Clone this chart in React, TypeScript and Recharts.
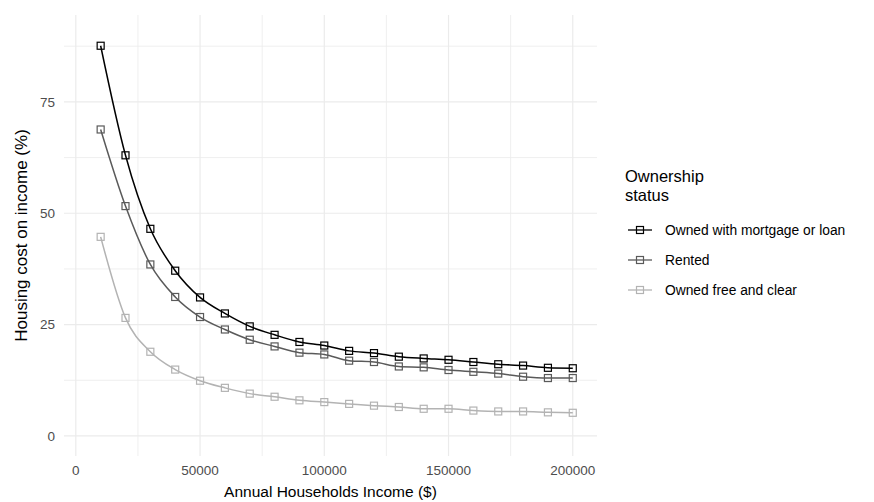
import React from "react";
import {
  LineChart,
  Line,
  XAxis,
  YAxis,
  ReferenceLine,
  Legend,
  Label,
} from "recharts";

const incomes = [
  10000, 20000, 30000, 40000, 50000, 60000, 70000, 80000, 90000, 100000,
  110000, 120000, 130000, 140000, 150000, 160000, 170000, 180000, 190000, 200000,
];
const mortgage = [
  87.6, 63.0, 46.5, 37.1, 31.1, 27.5, 24.6, 22.7, 21.1, 20.3, 19.1, 18.6, 17.8,
  17.4, 17.1, 16.6, 16.1, 15.8, 15.3, 15.2,
];
const rented = [
  68.8, 51.6, 38.5, 31.2, 26.7, 23.9, 21.6, 20.1, 18.7, 18.3, 16.9, 16.6, 15.6,
  15.4, 14.8, 14.4, 14.0, 13.3, 13.0, 13.0,
];
const freeClear = [
  44.7, 26.5, 18.9, 14.9, 12.4, 10.8, 9.5, 8.8, 8.0, 7.6, 7.2, 6.8, 6.5, 6.1,
  6.1, 5.7, 5.5, 5.5, 5.3, 5.2,
];

const seriesKeys = ["mortgage", "rented", "freeClear"];
const seriesNames = ["Owned with mortgage or loan", "Rented", "Owned free and clear"];
const seriesColors = ["#000000", "#5a5a5a", "#b3b3b3"];

const xTicks = [0, 50000, 100000, 150000, 200000];
const yTicks = [0, 25, 50, 75];
const xMinor = [25000, 75000, 125000, 175000];
const yMinor = [12.5, 37.5, 62.5, 87.5];

const legendTitle = ["Ownership", "status"];
const xTitle = "Annual Households Income ($)";
const yTitle = "Housing cost on income (%)";

const data = incomes.map((inc, i) => ({
  income: inc,
  mortgage: mortgage[i],
  rented: rented[i],
  freeClear: freeClear[i],
}));

const FONT = '"Liberation Sans", Arial, Helvetica, sans-serif';
const GRID = "#ebebeb";

const makeSquare = (color: string) => (props: any) => {
  const { cx, cy, index } = props;
  if (cx == null || cy == null) return <g key={`n-${index}`} />;
  const s = 7;
  return (
    <rect
      key={`sq-${index}`}
      x={cx - s / 2}
      y={cy - s / 2}
      width={s}
      height={s}
      fill="none"
      stroke={color}
      strokeWidth={1.2}
    />
  );
};

const YTitleContent = (props: any) => {
  const vb = props.viewBox || {};
  const cx = vb.x + 27;
  const cy = vb.y + vb.height / 2;
  return (
    <text
      x={cx}
      y={cy}
      transform={`rotate(-90, ${cx}, ${cy})`}
      textAnchor="middle"
      fontFamily={FONT}
      fontSize={17}
      fill="#000"
    >
      {yTitle}
    </text>
  );
};

const XTitleContent = (props: any) => {
  const vb = props.viewBox || {};
  const cx = vb.x + vb.width / 2;
  const by = vb.y + vb.height - 5;
  return (
    <text x={cx} y={by} textAnchor="middle" fontFamily={FONT} fontSize={15.5} fill="#000">
      {xTitle}
    </text>
  );
};

const LegendContent = () => (
  <svg width={254} height={150} style={{ display: "block" }}>
    {legendTitle.map((t, i) => (
      <text key={t} x={5} y={22 + i * 19} fontFamily={FONT} fontSize={16.5} fill="#000">
        {t}
      </text>
    ))}
    {seriesNames.map((name, i) => {
      const cy = 70 + i * 30;
      return (
        <g key={name}>
          <line x1={8} x2={32} y1={cy} y2={cy} stroke={seriesColors[i]} strokeWidth={1.3} />
          <rect
            x={20 - 3.5}
            y={cy - 3.5}
            width={7}
            height={7}
            fill="none"
            stroke={seriesColors[i]}
            strokeWidth={1.2}
          />
          <text
            x={45}
            y={cy}
            dominantBaseline="central"
            fontFamily={FONT}
            fontSize={13.8}
            fill="#000"
          >
            {name}
          </text>
        </g>
      );
    })}
  </svg>
);

export default function App() {
  return (
    <div style={{ position: "absolute", left: 0, top: 0, width: 874, height: 502, background: "#fff" }}>
      <LineChart
        width={874}
        height={502}
        data={data}
        margin={{ top: 15, right: 277, bottom: 0, left: 0 }}
        style={{ fontFamily: FONT }}
      >
        {xMinor.map((v) => (
          <ReferenceLine key={`xm${v}`} x={v} stroke={GRID} strokeWidth={0.8} />
        ))}
        {yMinor.map((v) => (
          <ReferenceLine key={`ym${v}`} y={v} stroke={GRID} strokeWidth={0.8} />
        ))}
        {xTicks.map((v) => (
          <ReferenceLine key={`xM${v}`} x={v} stroke={GRID} strokeWidth={1.2} />
        ))}
        {yTicks.map((v) => (
          <ReferenceLine key={`yM${v}`} y={v} stroke={GRID} strokeWidth={1.2} />
        ))}
        <XAxis
          dataKey="income"
          type="number"
          domain={[-4750, 209750]}
          ticks={xTicks}
          allowDataOverflow
          axisLine={false}
          tickLine={false}
          tickSize={0}
          tickMargin={9}
          height={46}
          tick={{ fill: "#4d4d4d", fontSize: 13.5, fontFamily: FONT }}
        >
          <Label content={XTitleContent} />
        </XAxis>
        <YAxis
          type="number"
          domain={[-4.5, 94.5]}
          ticks={yTicks}
          allowDataOverflow
          axisLine={false}
          tickLine={false}
          tickSize={0}
          tickMargin={9}
          width={64}
          tick={{ fill: "#4d4d4d", fontSize: 13.5, fontFamily: FONT }}
        >
          <Label content={YTitleContent} />
        </YAxis>
        {seriesKeys.map((k, i) => (
          <Line
            key={k}
            dataKey={k}
            name={seriesNames[i]}
            type="monotone"
            stroke={seriesColors[i]}
            strokeWidth={1.5}
            dot={makeSquare(seriesColors[i])}
            activeDot={false}
            isAnimationActive={false}
          />
        ))}
        <Legend
          layout="horizontal"
          verticalAlign="middle"
          align="center"
          content={LegendContent}
          wrapperStyle={{ left: 620, top: 160, width: 254, height: 150 }}
        />
      </LineChart>
    </div>
  );
}
